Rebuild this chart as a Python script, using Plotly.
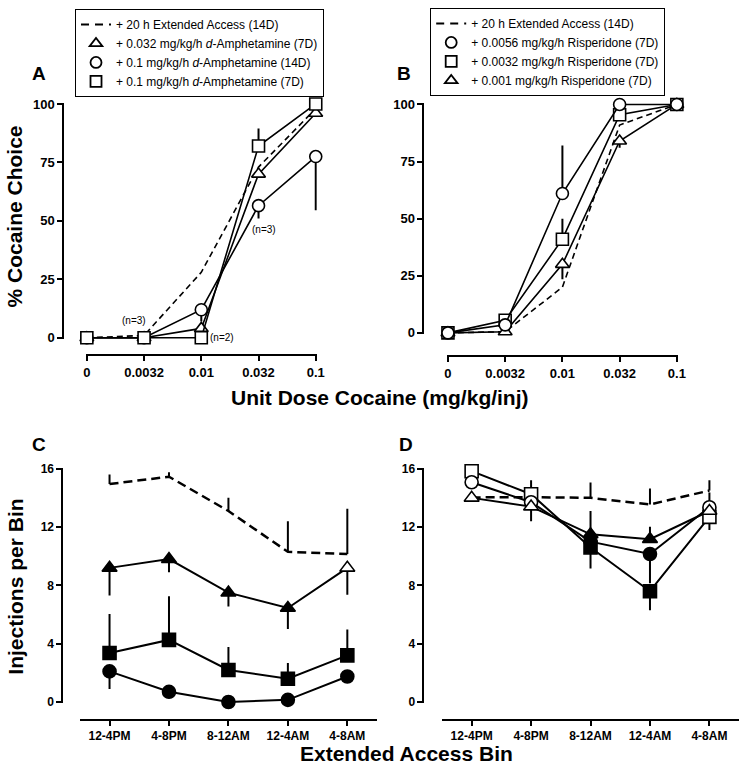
import plotly.graph_objects as go

W, H = 748, 773
FONT = "Liberation Sans, Arial, sans-serif"

# ---------------- data ----------------
dose_labels = ["0", "0.0032", "0.01", "0.032", "0.1"]
bin_labels = ["12-4PM", "4-8PM", "8-12AM", "12-4AM", "4-8AM"]
choice_ticks = [0, 25, 50, 75, 100]
inj_ticks = [0, 4, 8, 12, 16]
idx = [0, 1, 2, 3, 4]

# Panel A (% cocaine choice)
a_ea = [0, 1, 28, 73, 98]
a_amph032_7d = [0, 0, 4, 70, 96]
a_amph01_14d = [0, 0, 12, 56.5, 77.5]
a_amph01_14d_err_minus = [0, 0, 5, 5.5, 23]
a_amph01_7d = [0, 0, 0, 82, 100]
a_amph01_7d_err_plus = [0, 0, 0, 7.5, 0]

# Panel B (% cocaine choice)
b_ea = [0, 0.5, 20, 91, 100]
b_ris0056 = [0, 3.5, 61, 100, 100]
b_ris0056_err_plus = [0, 0, 21, 0, 0]
b_ris0032 = [0, 5.5, 41, 95.5, 100]
b_ris0032_err_plus = [0, 0, 9, 0, 0]
b_ris001 = [0, 0.5, 30, 84, 100]
b_ris001_err_minus = [0, 0, 6.5, 3, 0]

# Panel C (injections per bin)
c_ea = [14.95, 15.45, 13.1, 10.3, 10.15]
c_ea_err_plus = [0.65, 0.3, 0.9, 2.1, 3.1]
c_tri = [9.2, 9.8, 7.5, 6.45, 9.2]
c_tri_err_minus = [1.9, 0.9, 0.95, 1.45, 1.85]
c_tri_fill = ["black", "black", "black", "black", "white"]
c_sq = [3.36, 4.26, 2.2, 1.6, 3.2]
c_sq_err_plus = [2.67, 3.0, 1.58, 1.08, 1.78]
c_circ = [2.1, 0.7, 0.0, 0.15, 1.75]
c_circ_err_minus = [1.2, 0.2, 0, 0, 0]

# Panel D (injections per bin)
d_ea = [14.03, 14.05, 14.0, 13.55, 14.5]
d_ea_err_plus = [0, 1.15, 1.05, 1.1, 0.7]
d_sq = [15.83, 14.25, 10.6, 7.6, 12.7]
d_sq_err_minus = [0, 0, 1.45, 1.3, 0.9]
d_circ = [15.07, 13.7, 11.0, 10.15, 13.36]
d_circ_err_minus = [0, 1.3, 0, 2.0, 0]
d_circ_err_plus = [0, 0, 0, 0, 1.0]
d_tri = [14.0, 13.4, 11.5, 11.17, 13.1]
d_tri_err_plus = [0, 0, 1.6, 0.85, 0]
d_fill = ["white", "white", "black", "black", "white"]

# ---------------- helpers ----------------
def xdom(px_a, px_b, va, vb, r):
    k = (px_b - px_a) / (vb - va)
    return [(px_a + (r[0] - va) * k) / W, (px_a + (r[1] - va) * k) / W]


def ydom(py_a, py_b, va, vb, r):
    k = (py_b - py_a) / (vb - va)
    return [1 - (py_a + (r[0] - va) * k) / H, 1 - (py_a + (r[1] - va) * k) / H]


def err(plus=None, minus=None):
    z = [0, 0, 0, 0, 0]
    return dict(type="data", symmetric=False,
                array=plus if plus is not None else z,
                arrayminus=minus if minus is not None else z,
                color="black", thickness=2, width=0)


fig = go.Figure()


def add(xa, ya, y, symbol=None, fill="white", dash=None, lw=1.6, size=12,
        e=None, mlw=1.6):
    mode = "lines" if symbol is None else "lines+markers"
    kw = dict(x=idx, y=y, xaxis=xa, yaxis=ya, mode=mode, showlegend=False,
              cliponaxis=False, hoverinfo="skip",
              line=dict(color="black", width=lw, dash=dash))
    if symbol is not None:
        kw["marker"] = dict(symbol=symbol, size=size, color=fill,
                            line=dict(color="black", width=mlw))
    if e is not None:
        kw["error_y"] = e
    fig.add_trace(go.Scatter(**kw))


# Panel A
add("x", "y", a_ea, dash="6px,4px", lw=1.6)
add("x", "y", a_amph032_7d, symbol="triangle-up")
add("x", "y", a_amph01_14d, symbol="circle", e=err(minus=a_amph01_14d_err_minus))
add("x", "y", a_amph01_7d, symbol="square", e=err(plus=a_amph01_7d_err_plus))

# Panel B
add("x2", "y2", b_ea, dash="6px,4px", lw=1.6)
add("x2", "y2", b_ris001, symbol="triangle-up", e=err(minus=b_ris001_err_minus))
add("x2", "y2", b_ris0032, symbol="square", e=err(plus=b_ris0032_err_plus))
add("x2", "y2", b_ris0056, symbol="circle", e=err(plus=b_ris0056_err_plus))

# Panel C
add("x3", "y3", c_ea, dash="9px,5px", lw=2.5, e=err(plus=c_ea_err_plus))
add("x3", "y3", c_tri, symbol="triangle-up", fill=c_tri_fill, lw=2, size=13,
    e=err(minus=c_tri_err_minus))
add("x3", "y3", c_sq, symbol="square", fill="black", lw=2, size=13,
    e=err(plus=c_sq_err_plus))
add("x3", "y3", c_circ, symbol="circle", fill="black", lw=2, size=13,
    e=err(minus=c_circ_err_minus))

# Panel D
add("x4", "y4", d_ea, dash="9px,5px", lw=2.5, e=err(plus=d_ea_err_plus))
add("x4", "y4", d_sq, symbol="square", fill=d_fill, lw=2, size=13,
    e=err(minus=d_sq_err_minus))
add("x4", "y4", d_circ, symbol="circle", fill=d_fill, lw=2, size=13,
    e=err(plus=d_circ_err_plus, minus=d_circ_err_minus))
add("x4", "y4", d_tri, symbol="triangle-up", fill=d_fill, lw=2, size=13,
    e=err(plus=d_tri_err_plus))

# ---------------- legends ----------------
def leg(name, legend, symbol=None):
    if symbol is None:
        fig.add_trace(go.Scatter(x=[None], y=[None], mode="lines", name=name,
                                 legend=legend,
                                 line=dict(color="black", width=2, dash="8px,6px")))
    else:
        fig.add_trace(go.Scatter(x=[None], y=[None], mode="markers", name=name,
                                 legend=legend,
                                 marker=dict(symbol=symbol, size=11, color="white",
                                             line=dict(color="black", width=1.8))))


leg("+ 20 h Extended Access (14D)", "legend")
leg("+ 0.032 mg/kg/h <i>d</i>-Amphetamine (7D)", "legend", "triangle-up")
leg("+ 0.1 mg/kg/h <i>d</i>-Amphetamine (14D)", "legend", "circle")
leg("+ 0.1 mg/kg/h <i>d</i>-Amphetamine (7D)", "legend", "square")

leg("+ 20 h Extended Access (14D)", "legend2")
leg("+ 0.0056 mg/kg/h Risperidone (7D)", "legend2", "circle")
leg("+ 0.0032 mg/kg/h Risperidone (7D)", "legend2", "square")
leg("+ 0.001 mg/kg/h Risperidone (7D)", "legend2", "triangle-up")

legend_style = dict(xanchor="left", yanchor="top", bordercolor="black",
                    borderwidth=1, bgcolor="white", tracegroupgap=0,
                    itemwidth=30,
                    font=dict(family=FONT, size=12, color="black"))

# ---------------- axes ----------------
axis_style = dict(showline=True, linecolor="black", linewidth=1.6,
                  ticks="outside", ticklen=5, tickwidth=1.6, tickcolor="black",
                  showgrid=False, zeroline=False, anchor="free", fixedrange=True)

tick_big = dict(family=FONT, size=13, color="black", weight="bold")
tick_small = dict(family=FONT, size=12, color="black", weight="bold")

rA_x = [-0.02, 4.02]
rA_y = [-0.6, 100.6]
rC_x = [-0.5, 4.5]
rC_y = [-0.08, 16.08]

fig.update_layout(
    width=W, height=H,
    margin=dict(l=0, r=0, t=0, b=0),
    paper_bgcolor="white", plot_bgcolor="white",
    showlegend=True,
    legend=dict(x=74 / W, y=1 - 3 / H, **legend_style),
    legend2=dict(x=434 / W, y=1 - 2 / H, **legend_style),
    xaxis=dict(domain=xdom(86, 318, 0, 4, rA_x), range=rA_x, position=1 - 355 / H,
               tickvals=idx, ticktext=dose_labels, tickfont=tick_big, **axis_style),
    yaxis=dict(domain=ydom(337, 99.5, 0, 100, rA_y), range=rA_y, position=62 / W,
               tickvals=choice_ticks, tickfont=tick_big, **axis_style),
    xaxis2=dict(domain=xdom(452, 684, 0, 4, rA_x), range=rA_x, position=1 - 356 / H,
                tickvals=idx, ticktext=dose_labels, tickfont=tick_big, **axis_style),
    yaxis2=dict(domain=ydom(332, 100, 0, 100, rA_y), range=rA_y, position=427 / W,
                tickvals=choice_ticks, tickfont=tick_big, **axis_style),
    xaxis3=dict(domain=xdom(109, 350, 0, 4, rC_x), range=rC_x, position=1 - 725 / H,
                tickvals=idx, ticktext=bin_labels, tickfont=tick_small, **axis_style),
    yaxis3=dict(domain=ydom(707, 470, 0, 16, rC_y), range=rC_y, position=61 / W,
                tickvals=inj_ticks, tickfont=tick_small, **axis_style),
    xaxis4=dict(domain=xdom(476, 717, 0, 4, rC_x), range=rC_x, position=1 - 725 / H,
                tickvals=idx, ticktext=bin_labels, tickfont=tick_small, **axis_style),
    yaxis4=dict(domain=ydom(707, 470, 0, 16, rC_y), range=rC_y, position=427 / W,
                tickvals=inj_ticks, tickfont=tick_small, **axis_style),
)

# ---------------- text annotations ----------------
def note(text, x, y, size, bold=True, angle=0, xref="paper", yref="paper",
         yanchor="middle"):
    fig.add_annotation(text=text, x=x, y=y, xref=xref, yref=yref, showarrow=False,
                       textangle=angle, xanchor="center", yanchor=yanchor,
                       font=dict(family=FONT, size=size, color="black",
                                 weight="bold" if bold else "normal"))


note("A", 38 / W, 1 - 69 / H, 19)
note("B", 407 / W, 1 - 69 / H, 19)
note("C", 38 / W, 1 - 445 / H, 19)
note("D", 409 / W, 1 - 445 / H, 19)
note("% Cocaine Choice", 13 / W, 1 - 214 / H, 21, angle=-90)
note("Injections per Bin", 14 / W, 1 - 590 / H, 21, angle=-90)
note("Unit Dose Cocaine (mg/kg/inj)", 383 / W, 1 - 398 / H, 21)
note("Extended Access Bin", 410 / W, 0, 21, yanchor="bottom")

note("(n=3)", 0.83, 7.6, 10, bold=False, xref="x", yref="y")
note("(n=2)", 2.36, 0, 10, bold=False, xref="x", yref="y")
note("(n=3)", 3.09, 46.3, 10, bold=False, xref="x", yref="y")

fig.write_html("out.html", config={"displayModeBar": False},
               post_script="document.body.style.margin='0';")
